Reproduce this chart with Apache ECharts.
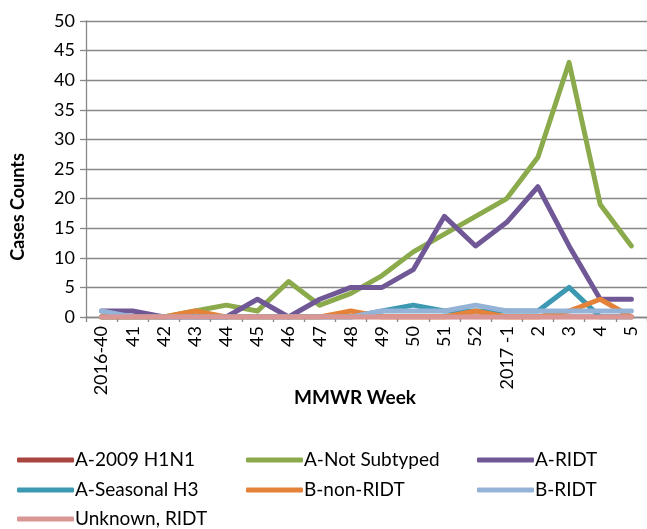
<!DOCTYPE html>
<html>
<head>
<meta charset="utf-8">
<script src="https://cdn.jsdelivr.net/npm/echarts@6/dist/echarts.min.js"></script>
<style>
  html, body { margin: 0; padding: 0; background: #fff; }
  #chart { width: 647px; height: 529px; }
</style>
</head>
<body>
<div id="chart"></div>
<script>
// MMWR weeks
const weeks = ['2016-40', '41', '42', '43', '44', '45', '46', '47', '48', '49', '50', '51', '52',
  '2017 -1', '2', '3', '4', '5']

const h1n1 = [0, 0, 0, 0, 0, 0, 0, 0, 0, 0, 0, 0, 0, 0, 0, 0, 0, 0]
const notSubtyped = [0, 0, 0, 1, 2, 1, 6, 2, 4, 7, 11, 14, 17, 20, 27, 43, 19, 12]
const aRidt = [1, 1, 0, 0, 0, 3, 0, 3, 5, 5, 8, 17, 12, 16, 22, 12, 3, 3]
const seasonalH3 = [0, 0, 0, 0, 0, 0, 0, 0, 0, 1, 2, 1, 1, 1, 1, 5, 0, 0]
const bNonRidt = [0, 0, 0, 1, 0, 0, 0, 0, 1, 0, 0, 0, 1, 0, 0, 1, 3, 0]
const bRidt = [1, 0, 0, 0, 0, 0, 0, 0, 0, 1, 1, 1, 2, 1, 1, 1, 1, 1]
const unknownRidt = [0, 0, 0, 0, 0, 0, 0, 0, 0, 0, 0, 0, 0, 0, 0, 0, 0, 0]

const yTicks = [0, 5, 10, 15, 20, 25, 30, 35, 40, 45, 50]

const fontFamily = 'Lato'
const gray = '#878787'

const seriesDefs = [
  { name: 'A-2009 H1N1', data: h1n1, color: '#A9443F' },
  { name: 'A-Not Subtyped', data: notSubtyped, color: '#8BAA4B' },
  { name: 'A-RIDT', data: aRidt, color: '#705896' },
  { name: 'A-Seasonal H3', data: seasonalH3, color: '#3D99B2' },
  { name: 'B-non-RIDT', data: bNonRidt, color: '#E38238' },
  { name: 'B-RIDT', data: bRidt, color: '#95B3D7' },
  { name: 'Unknown, RIDT', data: unknownRidt, color: '#D99694' }
]

// legend is a 3 column grid in the original, one legend per cell
const legendCols = [17, 246, 477]
const legendRows = [450, 480, 509]

const legends = seriesDefs.map((s, i) => ({
  data: [s.name],
  left: legendCols[i % 3],
  top: legendRows[Math.floor(i / 3)],
  padding: 0,
  itemWidth: 57,
  itemHeight: 5,
  itemGap: 0,
  icon: 'roundRect',
  textStyle: { fontFamily: fontFamily, fontSize: 19, color: '#000', lineHeight: 20, padding: [0, 0, 0, -4] }
}))

const chart = echarts.init(document.getElementById('chart'), null, { renderer: 'canvas' })

chart.setOption({
  animation: false,
  backgroundColor: '#fff',
  grid: { left: 86, right: 0, top: 21, bottom: 212 },
  legend: legends,
  xAxis: {
    type: 'category',
    data: weeks,
    boundaryGap: true,
    axisLine: { lineStyle: { color: gray, width: 1.3 } },
    axisTick: { show: true, interval: 0, length: 5, lineStyle: { color: gray, width: 1.3 } },
    axisLabel: { interval: 0, rotate: 90, margin: 9, color: '#000', fontFamily: fontFamily, fontSize: 18 }
  },
  yAxis: {
    type: 'value',
    min: yTicks[0],
    max: yTicks[yTicks.length - 1],
    interval: 5,
    axisLine: { show: true, lineStyle: { color: gray, width: 1.3 } },
    axisTick: { show: true, inside: false, length: 6, lineStyle: { color: gray, width: 1.3 } },
    axisLabel: { margin: 11, color: '#000', fontFamily: fontFamily, fontSize: 18 },
    splitLine: { lineStyle: { color: gray, width: 1.3 } }
  },
  graphic: [
    {
      type: 'text',
      x: 18,
      y: 207,
      rotation: Math.PI / 2,
      style: {
        text: 'Cases Counts',
        font: 'bold 18px ' + fontFamily,
        fill: '#000',
        textAlign: 'center',
        textVerticalAlign: 'middle'
      }
    },
    {
      type: 'text',
      x: 355,
      y: 398,
      style: {
        text: 'MMWR Week',
        font: 'bold 19px ' + fontFamily,
        fill: '#000',
        textAlign: 'center',
        textVerticalAlign: 'middle'
      }
    }
  ],
  series: seriesDefs.map(s => ({
    name: s.name,
    type: 'line',
    data: s.data,
    symbol: 'none',
    showSymbol: false,
    color: s.color,
    lineStyle: { width: 5, color: s.color, cap: 'round', join: 'round' },
    itemStyle: { color: s.color }
  }))
})
</script>
</body>
</html>
